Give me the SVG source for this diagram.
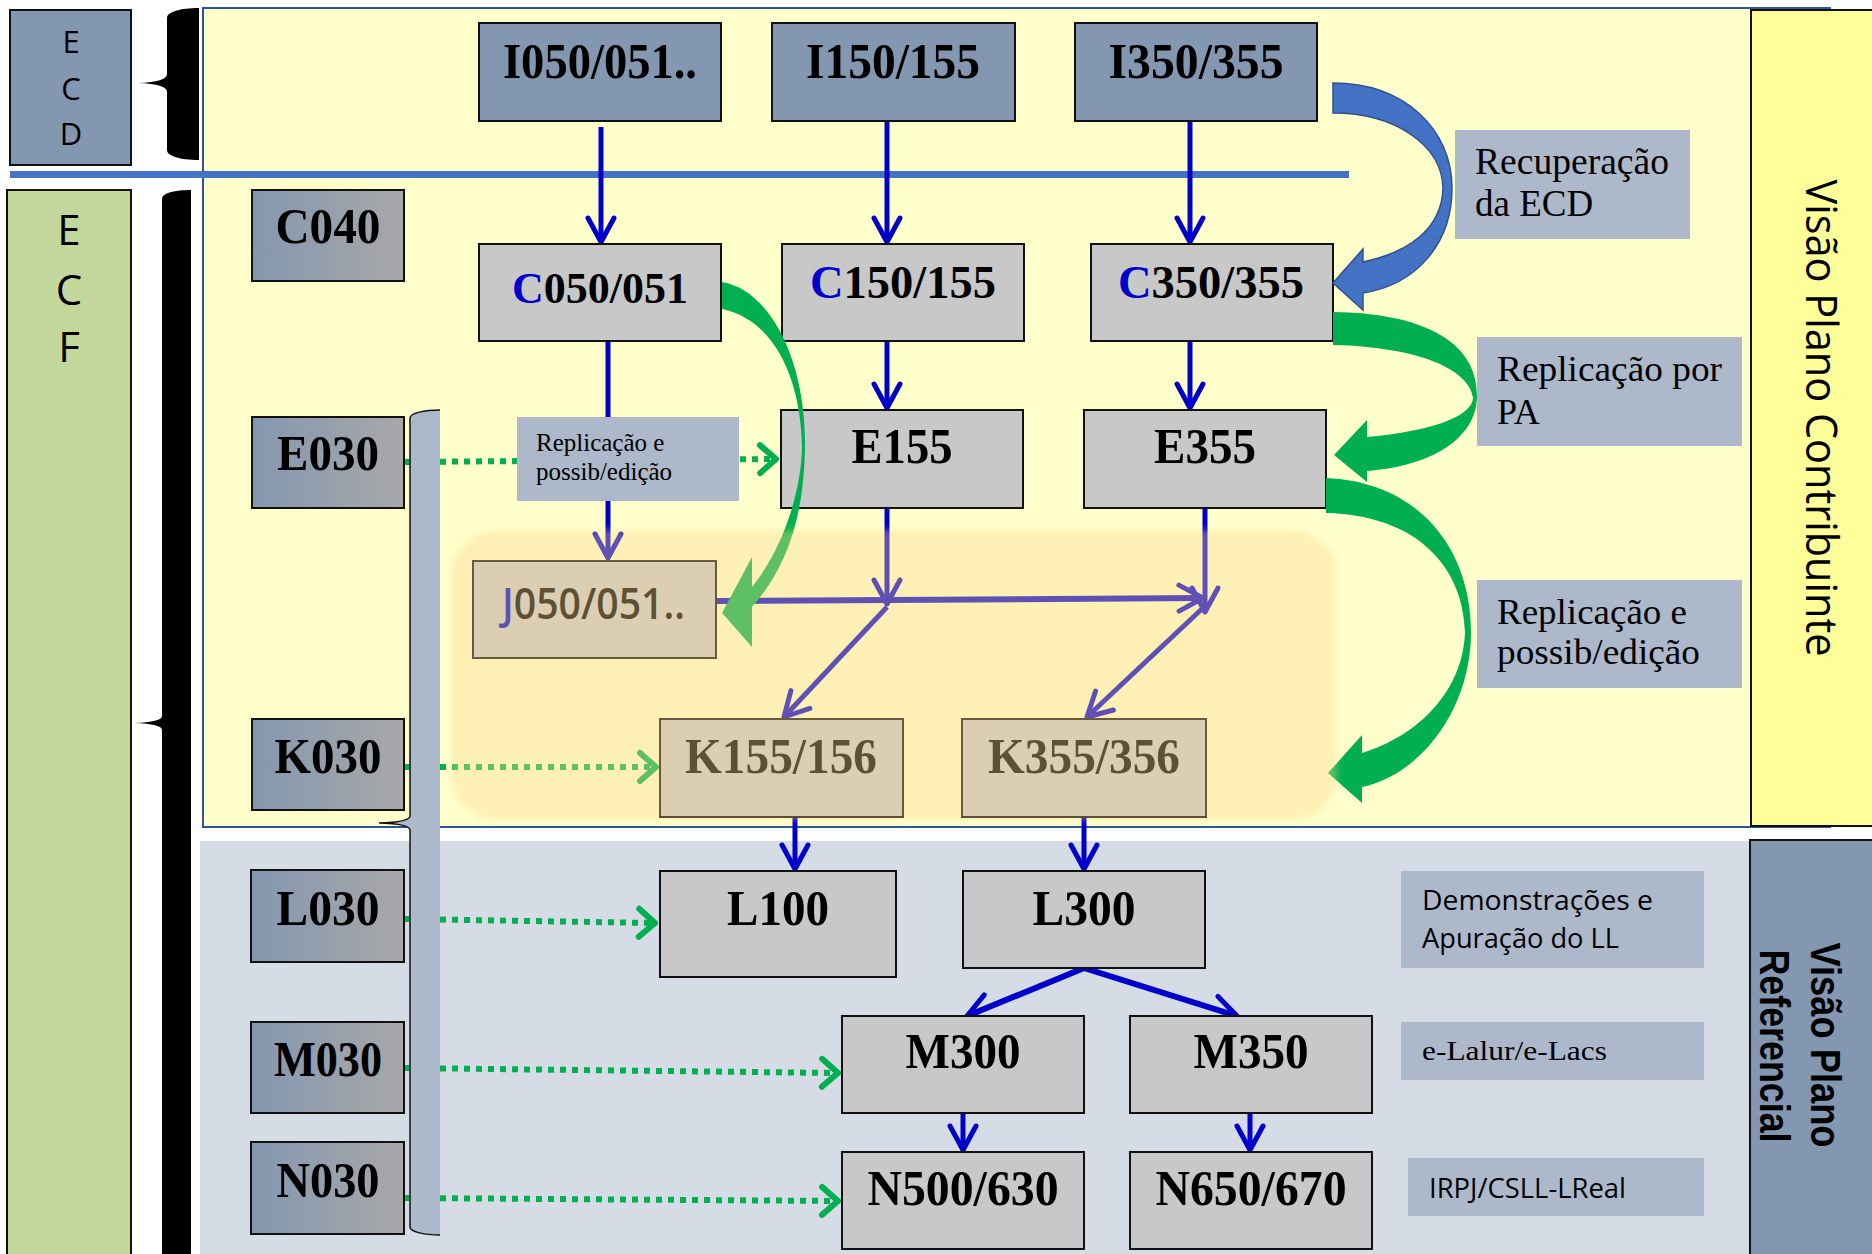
<svg xmlns="http://www.w3.org/2000/svg" width="1872" height="1254" viewBox="0 0 1872 1254">
<defs>
<linearGradient id="gl" x1="0" y1="0" x2="1" y2="0"><stop offset="0" stop-color="#8497b0"/><stop offset="1" stop-color="#a8a8a8"/></linearGradient>
<marker id="ab" markerUnits="userSpaceOnUse" viewBox="-30 -20 40 40" refX="0" refY="0" markerWidth="40" markerHeight="40" orient="auto" overflow="visible"><path d="M-24,-13 L0,0 L-24,13" fill="none" stroke="#0000cc" stroke-width="5" stroke-linecap="round" stroke-linejoin="round"/></marker>
<marker id="ag" markerUnits="userSpaceOnUse" viewBox="-30 -20 40 40" refX="0" refY="0" markerWidth="40" markerHeight="40" orient="auto" overflow="visible"><path d="M-16,-14 L0,0 L-16,14" fill="none" stroke="#00b050" stroke-width="6" stroke-linecap="round" stroke-linejoin="round"/></marker>
<filter id="soft" x="-5%" y="-5%" width="110%" height="110%"><feGaussianBlur stdDeviation="3"/></filter>
</defs>
<style>
.bx{stroke:#111;stroke-width:2}
.ib{fill:#8497b0}
.gb{fill:#c8c8c8}
.lb{fill:url(#gl)}
.t{font-family:"Liberation Serif","Times New Roman",serif;font-weight:bold;font-size:50px;text-anchor:middle;fill:#000}
.cn{fill:none;stroke:#0000cc;stroke-width:5}
.cw{fill:none;stroke:#0000cc;stroke-width:6}
.gd{fill:none;stroke:#00b050;stroke-width:6;stroke-dasharray:6 6}
.lab{fill:#adb9ca}
.ser{font-family:"Liberation Serif","Times New Roman",serif;fill:#000}
.sans{font-family:"Open Sans","Noto Sans",sans-serif;fill:#000}
</style>

<g id="background">
<rect width="1872" height="1254" fill="#ffffff"/>
<rect x="203" y="8" width="1627" height="819" fill="#ffffcc" stroke="#2f5597" stroke-width="2"/>
<rect x="200" y="841" width="1560" height="413" fill="#d6dce5"/>
<rect x="1751" y="10" width="125" height="816" fill="#ffff99" stroke="#111" stroke-width="2"/>
<text class="sans" transform="translate(1806,418) rotate(90)" text-anchor="middle" font-size="43" textLength="477" lengthAdjust="spacingAndGlyphs">Visão Plano Contribuinte</text>
<rect x="1750" y="840" width="125" height="420" fill="#8497b0" stroke="#111" stroke-width="2"/>
<text transform="translate(1811,1045) rotate(90)" text-anchor="middle" font-family="Liberation Sans, Arial, sans-serif" font-weight="bold" font-size="42" textLength="205" lengthAdjust="spacingAndGlyphs">Visão Plano</text>
<text transform="translate(1760,1046) rotate(90)" text-anchor="middle" font-family="Liberation Sans, Arial, sans-serif" font-weight="bold" font-size="42" textLength="193" lengthAdjust="spacingAndGlyphs">Referencial</text>
</g>

<g id="ECD">
<rect x="10" y="10" width="121" height="155" fill="#8497b0" stroke="#111" stroke-width="2"/>
<g class="sans" font-size="31" text-anchor="middle"><text x="71" y="53">E</text><text x="71" y="100">C</text><text x="71" y="145">D</text></g>
<path d="M199,8 C180,8 167,12 167,18 L167,74 Q167,82 138,83 Q167,84 167,92 L167,150 C167,156 180,160 199,160 Z" fill="#000"/>
</g>

<g id="ECF">
<rect x="7" y="190" width="124" height="1070" fill="#c3d69b" stroke="#111" stroke-width="2"/>
<g class="sans" font-size="42" text-anchor="middle"><text x="69" y="245">E</text><text x="69" y="305">C</text><text x="69" y="362">F</text></g>
<path d="M191,190 C175,190 162,193 162,199 L162,716 Q162,722 134,723 Q162,724 162,730 L162,1256 L191,1256 Z" fill="#000"/>
</g>

<rect id="separator" x="10" y="171" width="1339" height="7" fill="#4472c4"/>

<g id="connectors">
<path class="cn" d="M601,127 V242" marker-end="url(#ab)"/>
<path class="cn" d="M887,121 V242" marker-end="url(#ab)"/>
<path class="cn" d="M1190,121 V242" marker-end="url(#ab)"/>
<path class="cn" d="M608,341 V558" marker-end="url(#ab)"/>
<path class="cn" d="M887,341 V408" marker-end="url(#ab)"/>
<path class="cn" d="M1190,341 V408" marker-end="url(#ab)"/>
<path class="cn" d="M887,508 V604" marker-end="url(#ab)"/>
<path class="cn" d="M1205,508 V612" marker-end="url(#ab)"/>
<path class="cw" d="M716,601 L1203,598" marker-end="url(#ab)"/>
<path class="cn" d="M887,607 L784,717" marker-end="url(#ab)"/>
<path class="cn" d="M1205,606 L1087,717" marker-end="url(#ab)"/>
<path class="cn" d="M795,817 V869" marker-end="url(#ab)"/>
<path class="cn" d="M1084,817 V869" marker-end="url(#ab)"/>
<path class="cw" d="M1084,968 L967,1016" marker-end="url(#ab)"/>
<path class="cw" d="M1084,968 L1237,1016" marker-end="url(#ab)"/>
<path class="cn" d="M963,1105 V1150" marker-end="url(#ab)"/>
<path class="cn" d="M1250,1105 V1150" marker-end="url(#ab)"/>
<path class="gd" d="M404,462 L776,459" marker-end="url(#ag)"/>
<path class="gd" d="M404,767 L656,767" marker-end="url(#ag)"/>
<path class="gd" d="M404,919 L655,923" marker-end="url(#ag)"/>
<path class="gd" d="M404,1068 L838,1073" marker-end="url(#ag)"/>
<path class="gd" d="M404,1198 L838,1201" marker-end="url(#ag)"/>
</g>

<g id="bracket">
<path d="M440,410 C425,410 410,413 410,418 L410,816 Q410,822 379,823 Q410,824 410,830 L410,1227 C410,1232 425,1235 440,1235 Z" fill="#adb9ca"/>
<path d="M440,410 C425,410 410,413 410,418 L410,816 Q410,822 379,823 Q410,824 410,830 L410,1227 C410,1232 425,1235 440,1235" fill="none" stroke="#111" stroke-width="1.5"/>
</g>

<g id="I050"><rect class="bx ib" x="479" y="23" width="242" height="98"/><text class="t" x="600" y="78" textLength="194" lengthAdjust="spacingAndGlyphs">I050/051..</text></g>
<g id="I150"><rect class="bx ib" x="772" y="23" width="243" height="98"/><text class="t" x="893" y="78" textLength="174" lengthAdjust="spacingAndGlyphs">I150/155</text></g>
<g id="I350"><rect class="bx ib" x="1075" y="23" width="242" height="98"/><text class="t" x="1196" y="78" textLength="175" lengthAdjust="spacingAndGlyphs">I350/355</text></g>

<g id="C040"><rect class="bx lb" x="252" y="190" width="152" height="91"/><text class="t" x="328" y="243" textLength="105" lengthAdjust="spacingAndGlyphs">C040</text></g>
<g id="E030"><rect class="bx lb" x="252" y="417" width="152" height="91"/><text class="t" x="328" y="470" textLength="102" lengthAdjust="spacingAndGlyphs">E030</text></g>
<g id="K030"><rect class="bx lb" x="252" y="719" width="152" height="91"/><text class="t" x="328" y="773" textLength="107" lengthAdjust="spacingAndGlyphs">K030</text></g>
<g id="L030"><rect class="bx lb" x="251" y="870" width="153" height="92"/><text class="t" x="328" y="925" textLength="103" lengthAdjust="spacingAndGlyphs">L030</text></g>
<g id="M030"><rect class="bx lb" x="251" y="1022" width="153" height="91"/><text class="t" x="328" y="1076" textLength="108" lengthAdjust="spacingAndGlyphs">M030</text></g>
<g id="N030"><rect class="bx lb" x="251" y="1142" width="153" height="92"/><text class="t" x="328" y="1197" textLength="103" lengthAdjust="spacingAndGlyphs">N030</text></g>

<g id="C050"><rect class="bx gb" x="479" y="244" width="242" height="97"/><text class="t" x="600" y="303" style="font-size:44px"><tspan fill="#0000cc">C</tspan>050/051</text></g>
<g id="C150"><rect class="bx gb" x="782" y="244" width="242" height="97"/><text class="t" x="903" y="298" style="font-size:46.5px"><tspan fill="#0000cc">C</tspan>150/155</text></g>
<g id="C350"><rect class="bx gb" x="1091" y="244" width="242" height="97"/><text class="t" x="1211" y="298" style="font-size:46.5px"><tspan fill="#0000cc">C</tspan>350/355</text></g>

<g id="label-replicacao-small"><rect class="lab" x="517" y="417" width="222" height="84"/><text class="ser" font-size="25"><tspan x="536" y="451">Replicação e</tspan><tspan x="536" y="480">possib/edição</tspan></text></g>

<g id="E155"><rect class="bx gb" x="781" y="410" width="242" height="98"/><text class="t" x="902" y="463" textLength="101" lengthAdjust="spacingAndGlyphs">E155</text></g>
<g id="E355"><rect class="bx gb" x="1084" y="410" width="242" height="98"/><text class="t" x="1205" y="463" textLength="102" lengthAdjust="spacingAndGlyphs">E355</text></g>

<g id="J050"><rect class="bx gb" x="473" y="561" width="243" height="97"/><text class="sans" x="502" y="619" font-size="44" font-weight="600" textLength="183" lengthAdjust="spacingAndGlyphs"><tspan fill="#0000cc">J</tspan>050/051..</text></g>
<g id="K155"><rect class="bx gb" x="660" y="719" width="243" height="98"/><text class="t" x="781" y="773" textLength="192" lengthAdjust="spacingAndGlyphs">K155/156</text></g>
<g id="K355"><rect class="bx gb" x="962" y="719" width="244" height="98"/><text class="t" x="1084" y="773" textLength="192" lengthAdjust="spacingAndGlyphs">K355/356</text></g>

<g id="L100"><rect class="bx gb" x="660" y="871" width="236" height="106"/><text class="t" x="778" y="925" textLength="102" lengthAdjust="spacingAndGlyphs">L100</text></g>
<g id="L300"><rect class="bx gb" x="963" y="871" width="242" height="97"/><text class="t" x="1084" y="925" textLength="103" lengthAdjust="spacingAndGlyphs">L300</text></g>
<g id="M300"><rect class="bx gb" x="842" y="1016" width="242" height="97"/><text class="t" x="963" y="1068" textLength="115" lengthAdjust="spacingAndGlyphs">M300</text></g>
<g id="M350"><rect class="bx gb" x="1130" y="1016" width="242" height="97"/><text class="t" x="1251" y="1068" textLength="115" lengthAdjust="spacingAndGlyphs">M350</text></g>
<g id="N500"><rect class="bx gb" x="842" y="1152" width="242" height="97"/><text class="t" x="963" y="1205" textLength="191" lengthAdjust="spacingAndGlyphs">N500/630</text></g>
<g id="N650"><rect class="bx gb" x="1130" y="1152" width="242" height="97"/><text class="t" x="1251" y="1205" textLength="191" lengthAdjust="spacingAndGlyphs">N650/670</text></g>

<g id="label-recuperacao"><rect class="lab" x="1455" y="130" width="235" height="109"/><text class="ser" font-size="37"><tspan x="1475" y="174" textLength="194" lengthAdjust="spacingAndGlyphs">Recuperação</tspan><tspan x="1475" y="216">da ECD</tspan></text></g>
<g id="label-replicacao-pa"><rect class="lab" x="1477" y="337" width="265" height="109"/><text class="ser" font-size="36"><tspan x="1497" y="381" textLength="225" lengthAdjust="spacingAndGlyphs">Replicação por</tspan><tspan x="1497" y="424">PA</tspan></text></g>
<g id="label-replicacao-edicao"><rect class="lab" x="1477" y="580" width="265" height="108"/><text class="ser" font-size="36"><tspan x="1497" y="624" textLength="190" lengthAdjust="spacingAndGlyphs">Replicação e</tspan><tspan x="1497" y="664" textLength="203" lengthAdjust="spacingAndGlyphs">possib/edição</tspan></text></g>
<g id="label-demonstracoes"><rect class="lab" x="1401" y="871" width="303" height="97"/><text class="sans" font-size="27"><tspan x="1422" y="910" textLength="231" lengthAdjust="spacingAndGlyphs">Demonstrações  e</tspan><tspan x="1422" y="948" textLength="197" lengthAdjust="spacingAndGlyphs">Apuração do LL</tspan></text></g>
<g id="label-elalur"><rect class="lab" x="1401" y="1022" width="303" height="58"/><text class="ser" x="1422" y="1060" font-size="28" textLength="185" lengthAdjust="spacingAndGlyphs">e-Lalur/e-Lacs</text></g>
<g id="label-irpj"><rect class="lab" x="1408" y="1158" width="296" height="58"/><text class="sans" x="1429" y="1198" font-size="27" textLength="197" lengthAdjust="spacingAndGlyphs">IRPJ/CSLL-LReal</text></g>

<g id="curved-arrows">
<path d="M1333,83 C1405,83 1452,130 1452,188 C1452,245 1415,285 1363,293 L1363,310 L1333,283 L1363,249 L1363,262 C1410,252 1442,228 1443,188 C1442,145 1395,113 1333,113 Z" fill="#4472c4" stroke="#2f528f" stroke-width="1.5"/>
<path d="M1333,312 C1420,313 1477,340 1477,395 C1477,440 1430,466 1367,471 L1367,482 L1334,455 L1367,420 L1367,437 C1425,432 1472,418 1473,398 C1470,370 1420,347 1333,345 Z" fill="#00b050"/>
<path d="M1326,478 C1420,482 1471,550 1471,632 C1471,710 1420,775 1362,787 L1362,803 L1328,773 L1362,735 L1362,753 C1420,735 1463,690 1465,632 C1463,565 1415,515 1326,513 Z" fill="#00b050"/>
<path d="M722,282 C770,290 806,360 805,447 C804,520 785,570 752,607 L752,647 L722,613 L752,557 L752,587 C778,555 801,500 802,447 C801,380 775,320 722,309 Z" fill="#00b050"/>
</g>

<rect id="highlight" x="451" y="530" width="886" height="290" rx="45" fill="rgb(255,216,140)" fill-opacity="0.37" filter="url(#soft)"/>
</svg>
